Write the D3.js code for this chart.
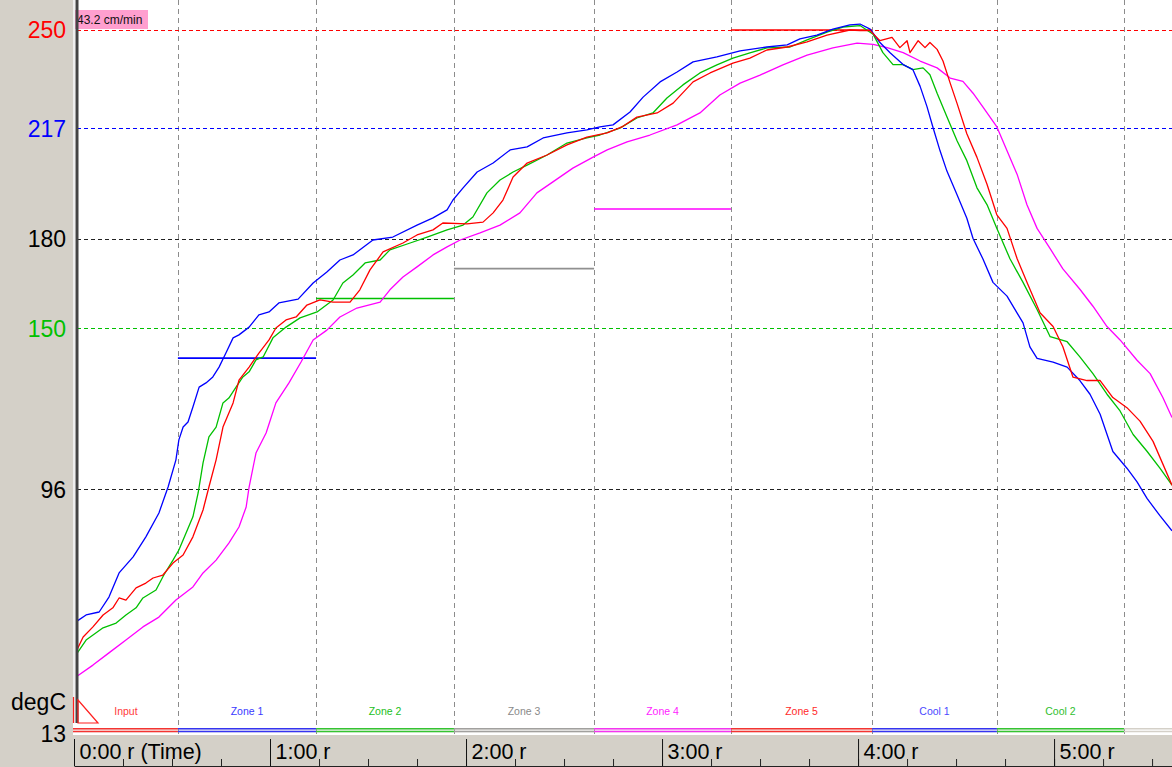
<!DOCTYPE html>
<html>
<head>
<meta charset="utf-8">
<script src="https://cdn.jsdelivr.net/npm/d3@7"></script>
<style>
  body { margin: 0; background: white; }
  text { font-family: "Liberation Sans", Arial, sans-serif; }
</style>
</head>
<body>
<div id="chart_area"></div>
<script>

// Temperature profile, times in seconds and temperatures in degC
var blueTime = [0.6,3.7,7.7,10.7,13.8,18.1,22.0,26.0,28.8,31.2,32.1,33.4,34.9,36.4,38.3,40.4,42.5,44.4,46.5,48.7,50.5,53.6,56.6,59.7,62.7,68.6,73.2,77.4,81.4,85.4,91.5,97.6,105.0,109.9,114.2,116.0,119.1,123.4,128.3,133.5,138.7,143.6,150.9,157.0,161.0,165.0,170.2,174.2,179.4,184.6,189.5,196.8,203.9,212.1,218.3,222.2,227.4,232.3,237.5,240.6,243.7,246.7,249.8,253.8,256.8,259.0,261.1,262.9,265.1,267.2,270.3,273.3,275.2,278.2,281.3,285.6,288.7,290.5,292.6,294.8,299.7,304.0,307.9,311.0,314.1,318.0,322.3,325.4,328.5,332.4,336.1];
var blueTemp = [51.6,53.9,54.9,59.9,68.0,73.4,80.1,88.1,96.8,105.9,112.6,116.9,118.6,123.6,130.3,131.7,133.7,137.0,141.7,146.8,147.8,150.4,154.5,155.5,158.5,159.8,165.2,168.9,172.9,174.6,179.6,180.6,184.6,187.0,189.7,193.0,197.1,202.4,205.4,209.8,210.8,213.8,215.5,216.5,217.5,218.2,222.5,227.5,232.6,235.9,239.3,241.0,243.0,244.3,245.0,247.0,248.3,250.3,251.7,252.0,250.3,245.8,242.4,238.4,236.7,231.1,224.3,217.5,209.5,202.7,194.8,186.9,180.1,173.3,165.4,160.8,155.1,151.8,143.8,139.9,138.7,137.0,132.5,127.9,121.2,108.7,103.1,98.5,92.9,87.2,82.1];

var greenTime = [0.6,3.7,8.9,12.9,15.9,19.0,21.1,25.1,27.5,30.3,32.1,34.3,36.4,38.0,39.5,41.3,43.5,45.6,47.4,49.6,51.7,53.6,55.7,57.9,60.9,64.9,69.2,74.4,79.3,82.3,85.4,89.1,93.7,96.7,102.9,108.1,114.2,119.1,122.1,126.4,130.4,134.4,138.7,144.8,150.9,157.0,161.0,167.1,172.3,177.2,181.5,186.4,191.6,196.8,201.7,206.9,212.1,219.2,224.4,230.5,235.4,240.6,244.6,247.6,250.7,253.8,256.8,259.9,262.0,264.2,267.2,270.3,273.3,276.4,279.5,282.5,286.5,290.5,294.8,298.8,304.0,307.9,311.9,316.2,320.2,324.2,328.5,332.4,336.1];
var greenTemp = [40.5,45.5,49.6,51.2,53.9,56.3,59.6,62.3,67.3,72.3,75.7,81.4,86.8,94.8,104.9,113.6,116.9,125.0,126.6,130.3,133.7,135.4,139.4,140.4,146.8,150.4,153.5,155.5,159.5,165.2,167.9,171.9,172.9,176.3,178.6,180.6,183.0,184.6,187.3,195.4,199.7,202.4,204.7,208.1,212.1,213.8,214.8,217.1,220.5,222.2,227.2,231.6,235.6,238.3,240.6,242.3,244.0,244.3,246.7,249.3,251.0,251.5,248.6,242.4,238.4,238.4,236.7,237.3,235.0,228.8,220.9,212.9,206.2,197.1,191.4,183.5,173.3,165.4,156.3,147.2,145.5,140.4,134.8,127.9,122.3,114.4,108.7,103.1,97.4];

var redTime = [0.6,2.8,5.8,8.9,11.9,13.8,15.9,19.0,22.0,24.2,27.2,30.3,33.4,36.4,39.5,41.3,43.5,45.6,48.7,50.5,53.6,56.6,59.7,61.8,64.9,68.0,71.3,75.3,79.3,84.5,87.5,90.6,94.6,100.7,105.0,109.9,112.9,120.3,125.2,128.3,131.3,134.4,138.7,144.8,150.9,157.0,163.2,167.7,172.3,178.5,183.4,189.5,194.7,201.7,206.9,212.1,218.3,224.4,230.5,237.5,240.6,243.7,246.7,250.4,252.8,255.0,255.9,258.4,260.5,262.0,264.2,266.0,268.2,270.3,273.3,276.4,279.5,282.5,285.6,288.7,291.7,295.7,299.7,302.7,305.8,310.1,314.1,318.0,322.3,326.3,330.3,336.1];
var redTemp = [41.5,46.5,49.9,53.9,56.3,59.6,58.9,63.0,64.6,66.3,67.3,71.3,74.0,80.1,89.1,96.8,105.9,116.9,125.0,132.6,137.0,141.7,146.1,150.1,152.8,153.8,157.8,159.5,158.8,158.8,162.9,169.6,175.6,178.6,181.3,183.0,185.3,185.0,185.6,188.7,193.0,200.7,205.4,208.1,211.5,214.1,215.5,217.5,220.8,222.2,225.5,232.6,235.6,238.9,240.6,243.3,244.3,246.0,248.3,250.0,249.8,249.8,246.4,247.5,244.1,246.4,242.4,246.4,244.1,245.8,243.5,239.6,232.2,225.4,215.2,207.3,198.2,188.0,183.5,173.3,165.4,155.2,150.6,143.8,133.6,132.5,132.5,126.8,123.4,118.9,112.1,97.4];

var magentaTime = [0.6,5.8,10.7,15.9,21.1,26.0,31.2,36.4,39.5,43.5,47.4,50.5,52.7,53.6,55.7,58.8,61.8,65.8,69.5,73.2,77.4,81.4,86.6,93.7,96.7,100.7,105.0,109.9,114.2,118.2,124.3,130.4,136.5,141.7,146.6,152.7,158.9,163.2,169.3,176.3,184.6,191.6,197.7,203.9,210.0,217.0,224.4,232.3,239.7,244.6,248.9,253.8,259.0,264.2,268.2,272.1,275.2,278.2,282.5,285.6,288.7,291.7,294.8,298.8,302.7,307.9,311.9,316.2,320.2,325.4,329.4,333.3,336.1];
var magentaTemp = [33.1,37.1,41.2,45.5,49.9,53.2,58.9,63.3,68.0,72.3,78.0,83.4,90.1,96.8,108.2,114.9,125.0,131.7,138.7,146.1,149.4,153.8,156.8,158.8,162.9,167.2,170.6,174.6,177.3,179.6,182.0,184.6,188.7,195.4,199.1,203.7,207.4,209.8,212.5,214.8,218.2,222.2,228.2,232.2,234.9,238.3,241.6,244.0,245.6,245.2,244.1,242.4,239.6,237.3,233.9,232.8,228.8,224.2,217.5,209.5,201.6,191.4,183.5,176.7,169.9,163.1,157.4,150.6,146.1,139.3,134.8,126.8,120.1];

// Oven zones: names, start/end time (s) and setpoints
var zoneNames = ["Input", "Zone 1", "Zone 2", "Zone 3", "Zone 4", "Zone 5", "Cool 1", "Cool 2"];
var zoneEdges = [0, 31.8, 74.1, 116.3, 159.2, 201.1, 244.3, 282.5, 321.4];
var zoneSetpoints = [null, 140, 160, 170, 190, 250, null, null];

// Reference temperatures on the y axis
var refTemps = [250, 217, 180, 150, 96];
var timeTicks = [0, 60, 120, 180, 240, 300];
var timeLabels = ["0:00 r (Time)", "1:00 r", "2:00 r", "3:00 r", "4:00 r", "5:00 r"];
var speedLabel = "43.2 cm/min";

window.onload = function() {

  var svgW = 1172
  var svgH = 767
  var plotLeft = 77
  var plotBottom = 735

  // Colors
  var zoneColors = ["#ff0000", "#0000ff", "#00c000", "#909090", "#ff00ff", "#ff0000", "#0000ff", "#00c000"]
  var zoneTextColors = ["#ff3a3a", "#3a3aff", "#22c022", "#8a8a8a", "#ff22ff", "#ff2a2a", "#4a4aff", "#30c030"]
  var setColors = [null, "#0000ff", "#00c000", "#909090", "#ff00ff", "#ff0000", null, null]
  var refColors = ["#ff0000", "#0000ff", "#222222", "#00c000", "#222222"]
  var refLabelColors = ["#ff0000", "#0000ff", "#000000", "#00c000", "#000000"]

  // Scales
  var xScale = d3.scaleLinear()
                  .domain([0, 336.1])
                  .range([74, svgW]);

  var yScale = d3.scaleLinear()
                  .domain([13, 250])
                  .range([737, 30]);

  var svg = d3.select("#chart_area")
              .append("svg")
                .attr("width", svgW)
                .attr("height", svgH)
                .style("display", "block");

  svg.append("rect")
      .attr("width", svgW)
      .attr("height", svgH)
      .attr("fill", "white");

  svg.append("clipPath")
      .attr("id", "plotClip")
    .append("rect")
      .attr("x", plotLeft)
      .attr("y", 0)
      .attr("width", svgW - plotLeft)
      .attr("height", plotBottom - 6);

  // Vertical zone boundaries
  svg.append("g")
      .selectAll("line")
      .data(zoneEdges.slice(1))
      .enter()
      .append("line")
        .attr("x1", function(d) { return Math.round(xScale(d)) + 0.5; })
        .attr("x2", function(d) { return Math.round(xScale(d)) + 0.5; })
        .attr("y1", 0)
        .attr("y2", plotBottom)
        .attr("stroke", "#8c8c8c")
        .attr("stroke-width", 1)
        .attr("stroke-dasharray", "5,4");

  // Horizontal reference lines
  svg.append("g")
      .selectAll("line")
      .data(refTemps)
      .enter()
      .append("line")
        .attr("x1", plotLeft)
        .attr("x2", svgW)
        .attr("y1", function(d) { return Math.round(yScale(d)) + 0.5; })
        .attr("y2", function(d) { return Math.round(yScale(d)) + 0.5; })
        .attr("stroke", function(d, i) { return refColors[i]; })
        .attr("stroke-width", 1)
        .attr("stroke-dasharray", "4,3");

  // Setpoint segments per zone
  var zones = zoneNames.map(function(name, i) {
    return {name: name, start: zoneEdges[i], end: zoneEdges[i + 1], set: zoneSetpoints[i], i: i}
  })

  svg.append("g")
      .selectAll("line")
      .data(zones.filter(function(d) { return d.set != null; }))
      .enter()
      .append("line")
        .attr("x1", function(d) { return xScale(d.start); })
        .attr("x2", function(d) { return xScale(d.end); })
        .attr("y1", function(d) { return yScale(d.set); })
        .attr("y2", function(d) { return yScale(d.set); })
        .attr("stroke", function(d) { return setColors[d.i]; })
        .attr("stroke-width", 1.7);

  // Temperature curves
  var series = [
    {color: "#ff00ff", data: d3.zip(magentaTime, magentaTemp)},
    {color: "#00c000", data: d3.zip(greenTime, greenTemp)},
    {color: "#0000ff", data: d3.zip(blueTime, blueTemp)},
    {color: "#ff0000", data: d3.zip(redTime, redTemp)}
  ]

  var line = d3.line()
                .x(function(d) { return xScale(d[0]); })
                .y(function(d) { return yScale(d[1]); });

  svg.append("g")
      .attr("clip-path", "url(#plotClip)")
      .selectAll("path")
      .data(series)
      .enter()
      .append("path")
        .attr("d", function(d) { return line(d.data); })
        .attr("fill", "none")
        .attr("stroke", function(d) { return d.color; })
        .attr("stroke-width", 1.3)
        .attr("stroke-linejoin", "round");

  // Zone labels and colored bars at the bottom
  var zoneG = svg.append("g");

  zoneG.selectAll("text")
      .data(zones)
      .enter()
      .append("text")
        .attr("x", function(d) { return (xScale(d.start) + xScale(d.end)) / 2; })
        .attr("y", 715)
        .attr("text-anchor", "middle")
        .style("font-size", "10.5px")
        .attr("fill", function(d) { return zoneTextColors[d.i]; })
        .text(function(d) { return d.name; });

  [728.8, 731.6].forEach(function(yy) {
    zoneG.append("line")
        .attr("x1", 73)
        .attr("x2", svgW)
        .attr("y1", yy)
        .attr("y2", yy)
        .attr("stroke", "#d4d0c8")
        .attr("stroke-width", 1.5);

    zoneG.selectAll(null)
        .data(zones)
        .enter()
        .append("line")
          .attr("x1", function(d) { return d.i == 0 ? 73 : xScale(d.start); })
          .attr("x2", function(d) { return xScale(d.end); })
          .attr("y1", yy)
          .attr("y2", yy)
          .attr("stroke", function(d) { return zoneColors[d.i]; })
          .attr("stroke-opacity", 0.75)
          .attr("stroke-width", 1.5);
  });

  // Gray panels: left and bottom
  svg.append("rect")
      .attr("x", 0)
      .attr("y", 0)
      .attr("width", 73)
      .attr("height", svgH)
      .attr("fill", "#d4d0c8");

  svg.append("rect")
      .attr("x", 73)
      .attr("y", plotBottom)
      .attr("width", svgW - 73)
      .attr("height", svgH - plotBottom)
      .attr("fill", "#d4d0c8");

  // Speed label
  svg.append("rect")
      .attr("x", 75)
      .attr("y", 10)
      .attr("width", 73)
      .attr("height", 19)
      .attr("fill", "#ff9fcf");

  svg.append("text")
      .attr("x", 77)
      .attr("y", 24)
      .style("font-size", "12px")
      .attr("fill", "#111")
      .text(speedLabel);

  // Left dark axis bar
  svg.append("rect")
      .attr("x", 73)
      .attr("y", 0)
      .attr("width", 2)
      .attr("height", 723)
      .attr("fill", "#eeeeee");

  svg.append("rect")
      .attr("x", 75.5)
      .attr("y", 0)
      .attr("width", 3)
      .attr("height", 723)
      .attr("fill", "#444444");

  // Red triangle marker
  svg.append("path")
      .attr("d", "M78,700 L98,723 L78,723 Z")
      .attr("fill", "none")
      .attr("stroke", "#ff2020")
      .attr("stroke-width", 1.2);

  svg.append("line")
      .attr("x1", 73.5)
      .attr("x2", 73.5)
      .attr("y1", 697)
      .attr("y2", 723)
      .attr("stroke", "#ff2020")
      .attr("stroke-width", 1.2);

  // Y labels
  svg.append("g")
      .selectAll("text")
      .data(refTemps)
      .enter()
      .append("text")
        .attr("x", 66)
        .attr("y", function(d) { return yScale(d); })
        .attr("dy", "0.36em")
        .attr("text-anchor", "end")
        .style("font-size", "23px")
        .attr("fill", function(d, i) { return refLabelColors[i]; })
        .text(function(d) { return d; });

  svg.append("text")
      .attr("x", 66)
      .attr("y", 702)
      .attr("dy", "0.36em")
      .attr("text-anchor", "end")
      .style("font-size", "23px")
      .attr("fill", "black")
      .text("degC");

  svg.append("text")
      .attr("x", 66)
      .attr("y", 734)
      .attr("dy", "0.36em")
      .attr("text-anchor", "end")
      .style("font-size", "23px")
      .attr("fill", "black")
      .text(yScale.domain()[0]);

  // Time axis along the bottom strip
  var minorAxis = d3.axisTop(xScale)
                    .tickValues(d3.range(0, 337, 15))
                    .tickSize(7)
                    .tickSizeOuter(0)
                    .tickFormat("");

  svg.append("g")
      .attr("class", "x axis minor")
      .attr("transform", "translate(0," + 766 + ")")
      .call(minorAxis)
      .attr("color", "#222");

  var majorAxis = d3.axisTop(xScale)
                    .tickValues(timeTicks)
                    .tickSize(27)
                    .tickSizeOuter(0)
                    .tickFormat(function(d, i) { return timeLabels[i]; });

  var xAxisG = svg.append("g")
      .attr("class", "x axis major")
      .attr("transform", "translate(0," + 766 + ")")
      .call(majorAxis)
      .attr("color", "#111");

  xAxisG.select(".domain").remove();

  xAxisG.selectAll("text")
      .attr("x", 5)
      .attr("y", -7)
      .attr("dy", null)
      .attr("text-anchor", "start")
      .attr("fill", "#000")
      .style("font-size", "21.5px")
      .style("font-family", "'Liberation Sans', Arial, sans-serif");
};
</script>
</body>
</html>
